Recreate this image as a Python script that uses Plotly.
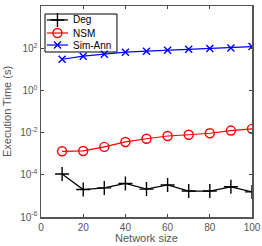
import plotly.graph_objects as go

network_size = [10, 20, 30, 40, 50, 60, 70, 80, 90, 100]
deg_time = [1.1e-4, 2.0e-5, 2.4e-5, 3.9e-5, 2.1e-5, 3.3e-5, 1.7e-5, 1.7e-5, 2.7e-5, 1.55e-5]
nsm_time = [1.3e-3, 1.35e-3, 2.1e-3, 3.6e-3, 5.1e-3, 6.9e-3, 7.9e-3, 9.3e-3, 1.25e-2, 1.5e-2]
simann_time = [30, 42, 52, 65, 72, 80, 89, 96, 102, 120]

series_names = ["Deg", "NSM", "Sim-Ann"]
series_colors = ["black", "red", "blue"]
series_symbols = ["cross-thin", "circle-open", "x-thin"]
series_sizes = [10, 9, 7]

ytick_vals = [1e-6, 1e-4, 1e-2, 1e0, 1e2, 1e4]
ytick_text = ["10<sup>-6</sup>", "10<sup>-4</sup>", "10<sup>-2</sup>", "10<sup>0</sup>", "10<sup>2</sup>", "10<sup>4</sup>"]
xtick_vals = [0, 20, 40, 60, 80, 100]

fig = go.Figure()
for name, ys, col, sym, sz in zip(series_names, [deg_time, nsm_time, simann_time],
                                  series_colors, series_symbols, series_sizes):
    fig.add_trace(go.Scatter(x=network_size, y=ys, name=name, mode="lines+markers",
                             line=dict(color=col, width=1.2), showlegend=False,
                             marker=dict(symbol=sym, size=sz, color=col,
                                         line=dict(color=col, width=1.4))))

# custom compact legend
leg_x0, leg_x1, leg_y0, leg_y1 = 0.019, 0.36, 0.782, 0.962
leg_rows = [0.934, 0.872, 0.815]
fig.add_shape(type="rect", xref="paper", yref="paper", x0=leg_x0, x1=leg_x1, y0=leg_y0, y1=leg_y1,
              line=dict(color="black", width=1), fillcolor="white", layer="below")
for name, col, sym, sz, ry in zip(series_names, series_colors, series_symbols, series_sizes, leg_rows):
    fig.add_trace(go.Scatter(x=[0.028, 0.128], y=[ry, ry], xaxis="x2", yaxis="y2", mode="lines",
                             line=dict(color=col, width=1.2), showlegend=False, hoverinfo="skip"))
    fig.add_trace(go.Scatter(x=[0.078], y=[ry], xaxis="x2", yaxis="y2", mode="markers",
                             marker=dict(symbol=sym, size=sz, color=col, line=dict(color=col, width=1.4)),
                             showlegend=False, hoverinfo="skip"))
    fig.add_annotation(x=0.142, y=ry, xref="paper", yref="paper", text=name, showarrow=False,
                       xanchor="left", yanchor="middle", font=dict(size=10, color="black"))

axis_color = "#555555"
fig.update_layout(
    width=262, height=246,
    margin=dict(l=41, r=10, t=6, b=29),
    paper_bgcolor="white", plot_bgcolor="white",
    font=dict(family="Liberation Sans, Arial, sans-serif", size=10, color=axis_color),
    showlegend=False,
    xaxis2=dict(overlaying="x", range=[0, 1], visible=False),
    yaxis2=dict(overlaying="y", range=[0, 1], visible=False),
    xaxis=dict(range=[0, 100], tickvals=xtick_vals, ticks="inside", ticklen=3,
               showline=True, linecolor=axis_color, linewidth=1.5, mirror="ticks",
               showgrid=False, zeroline=False, automargin=False,
               tickfont=dict(size=10, color=axis_color),
               title=dict(text="Network size", standoff=2, font=dict(size=11, color=axis_color))),
    yaxis=dict(type="log", range=[-6, 4], tickvals=ytick_vals, ticktext=ytick_text,
               ticks="inside", ticklen=3,
               showline=True, linecolor=axis_color, linewidth=1.5, mirror="ticks",
               showgrid=False, zeroline=False, automargin=False,
               tickfont=dict(size=10, color=axis_color),
               title=dict(text="Execution Time (s)", standoff=6, font=dict(size=11, color=axis_color))),
)

fig.write_html("out.html", config={"displayModeBar": False, "staticPlot": True},
               post_script="document.body.style.margin='0';document.body.style.overflow='hidden';")
